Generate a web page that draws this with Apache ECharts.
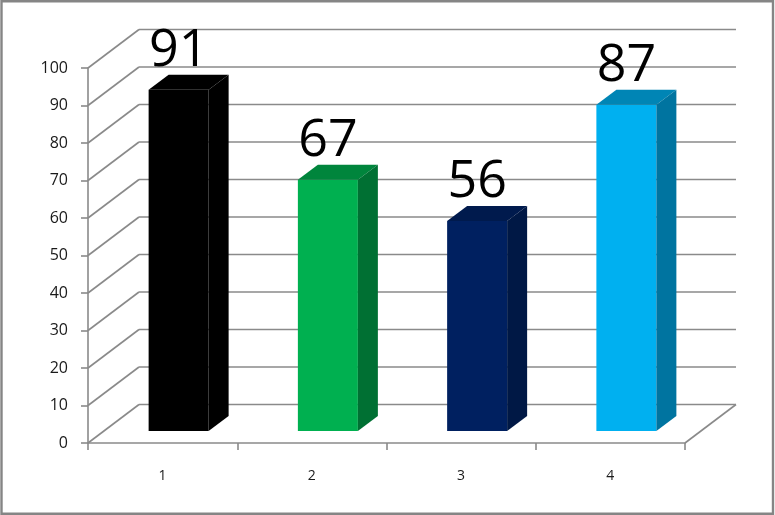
<!DOCTYPE html>
<html>
<head>
<meta charset="utf-8">
<style>html,body{margin:0;padding:0;background:#fff}#c{width:775px;height:515px}</style>
<script src="https://cdn.jsdelivr.net/npm/echarts@6/dist/echarts.min.js"></script>
</head>
<body>
<div id="c"></div>
<script>
const categories = ['1', '2', '3', '4'];
const values = [91, 67, 56, 87];
const yTicks = [0, 10, 20, 30, 40, 50, 60, 70, 80, 90, 100];
const frontColors = ['#000000', '#00B050', '#002060', '#00B0F0'];
const topColors = ['#000000', '#00853C', '#001A4D', '#0085B5'];
const sideColors = ['#000000', '#007033', '#001845', '#0074A0'];

const LINE = '#8a8a8a';
const FONT = '"Open Sans", sans-serif';
const WALL_DX = 51, WALL_DY = -38.5;
const BAR_DX = 16, BAR_DY = -12;
const DEPTH_DX = 20, DEPTH_DY = -15;
const BAR_W = 60;

function wallItem(params, api) {
  const v = api.value(1);
  const cs = params.coordSys;
  const y = api.coord([0, v])[1];
  const x0 = cs.x, x1 = cs.x + cs.width;
  const shape = (a, b, c, d) => ({ type: 'line', shape: { x1: a, y1: b, x2: c, y2: d },
    style: { stroke: LINE, lineWidth: 1.6 }, silent: true });
  const kids = [
    shape(x0, y, x0 + WALL_DX, y + WALL_DY),
    shape(x0 + WALL_DX, y + WALL_DY, x1 + WALL_DX, y + WALL_DY)
  ];
  if (v === 0) kids.push(shape(x1, y, x1 + WALL_DX, y + WALL_DY));
  return { type: 'group', children: kids };
}

function barItem(params, api) {
  const i = api.value(0);
  const top = api.coord([i, api.value(1)]);
  const base = api.coord([i, 0]);
  const l = top[0] + BAR_DX - BAR_W / 2, r = l + BAR_W;
  const t = top[1] + BAR_DY, b = base[1] + BAR_DY;
  const poly = (pts, fill) => ({ type: 'polygon', shape: { points: pts }, style: { fill: fill }, silent: true });
  return { type: 'group', children: [
    poly([[l, b], [r, b], [r, t], [l, t]], frontColors[i]),
    poly([[l, t], [r, t], [r + DEPTH_DX, t + DEPTH_DY], [l + DEPTH_DX, t + DEPTH_DY]], topColors[i]),
    poly([[r, b], [r + DEPTH_DX, b + DEPTH_DY], [r + DEPTH_DX, t + DEPTH_DY], [r, t]], sideColors[i]),
    { type: 'text', style: { text: String(api.value(1)), x: (l + r) / 2, y: t - 13,
      align: 'center', verticalAlign: 'bottom', fill: '#000', font: '52px ' + FONT }, silent: true }
  ]};
}

const chart = echarts.init(document.getElementById('c'), null, { renderer: 'canvas' });
chart.setOption({
  animation: false,
  backgroundColor: '#fff',
  grid: { left: 88, right: 90, top: 68, bottom: 72 },
  xAxis: {
    type: 'category', data: categories,
    axisLine: { lineStyle: { color: LINE, width: 1.6 } },
    axisTick: { show: true, alignWithLabel: false, length: 7, lineStyle: { color: LINE, width: 1.6 } },
    axisLabel: { color: '#1a1a1a', fontFamily: FONT, fontSize: 14, margin: 26 },
    splitLine: { show: false }
  },
  yAxis: {
    type: 'value', min: 0, max: 100, interval: 10,
    axisLine: { show: true, lineStyle: { color: LINE, width: 1.6 } },
    axisTick: { show: true, length: 7, lineStyle: { color: LINE, width: 1.6 } },
    axisLabel: { color: '#1a1a1a', fontFamily: FONT, fontSize: 16, margin: 20 },
    splitLine: { show: false }
  },
  graphic: [{ type: 'rect', shape: { x: 1.5, y: 1.2, width: 771.5, height: 512.5 },
    style: { fill: 'none', stroke: '#858585', lineWidth: 2.4 }, silent: true }],
  series: [
    { type: 'custom', z: 1, renderItem: wallItem, silent: true, clip: false,
      data: yTicks.map(v => [0, v]), encode: { x: 0, y: 1 } },
    { type: 'custom', z: 3, renderItem: barItem, silent: true, clip: false,
      data: values.map((v, i) => [i, v]), encode: { x: 0, y: 1 } }
  ]
});
</script>
</body>
</html>
